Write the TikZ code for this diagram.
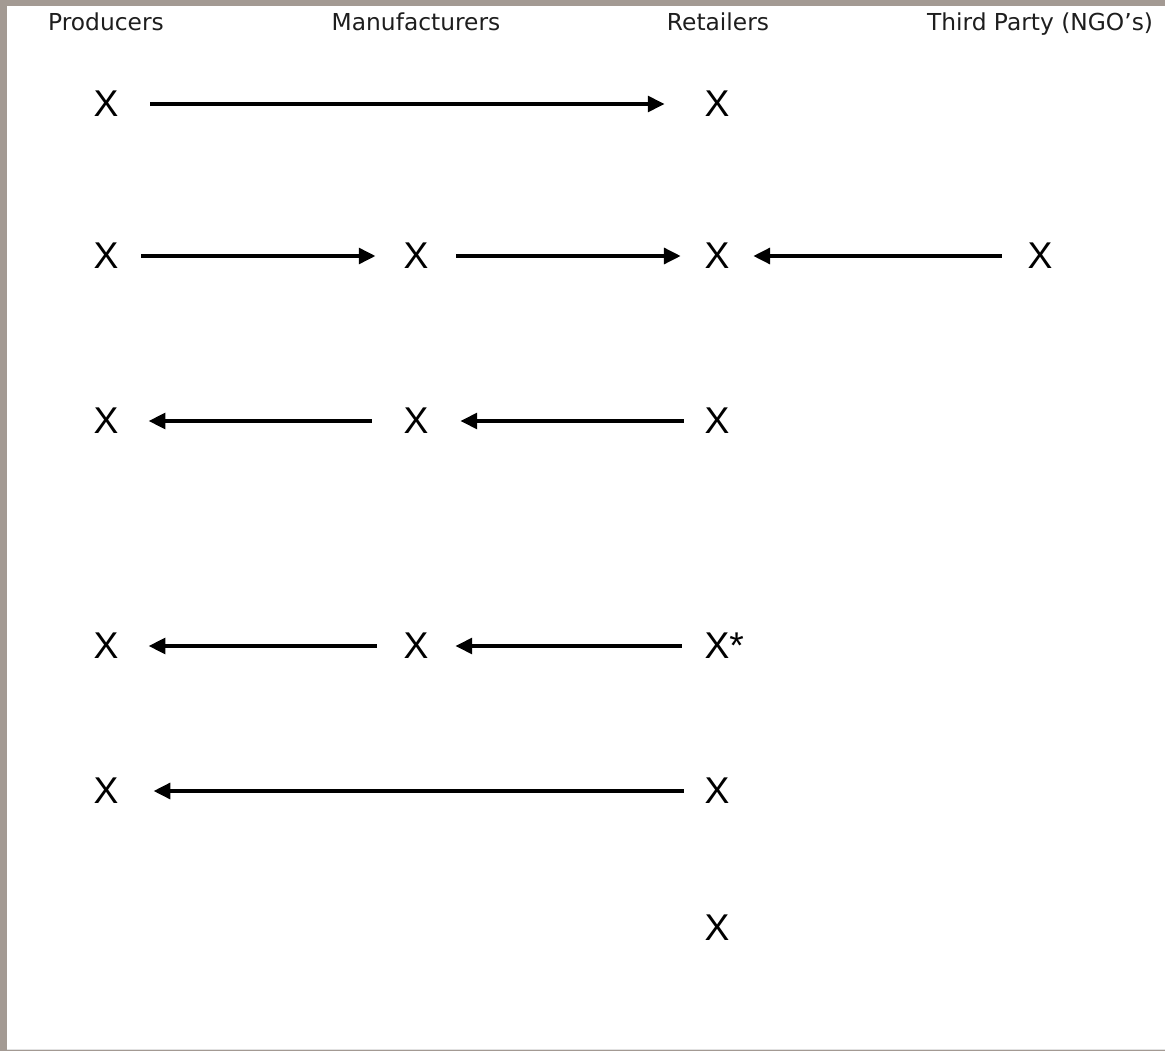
\documentclass[tikz,border=0pt]{standalone}
\usepackage{fontspec}
\setmainfont{DejaVu Sans}
\newfontfamily\crossfont{Liberation Sans}
\usepackage{tikz}
\usetikzlibrary{arrows.meta,positioning}
\definecolor{Frame}{HTML}{A39A93}
\definecolor{Edge}{HTML}{E2E2E2}
\definecolor{Ink}{HTML}{000000}
\definecolor{Head}{HTML}{1E1E1E}

\begin{document}
\begin{tikzpicture}[x=0.025cm,y=-0.025cm,
    head/.style={font=\fontsize{16.6}{20}\selectfont,Head,anchor=base},
    cross/.style={font=\crossfont\fontsize{26.5}{30}\selectfont,Ink,
      minimum width=50pt,inner xsep=0pt},
    flow/.style={Ink,line width=3.3pt,-{Triangle[length=12pt,width=11pt]}}]
  \useasboundingbox (0,0) rectangle (1165,1051);
  % frame
  \fill[Frame] (0,0) rectangle (1165,1051);
  \fill[white] (7,6) rectangle (1165,1049);
  \draw[Edge,line width=1pt] (7,1049.5) -- (1165,1049.5);
  % column heads
  \foreach \x/\name/\txt in {106/prod/Producers, 416/manu/Manufacturers,
    718/reta/Retailers, 1040/third/{Third Party (NGO’s)}} {
    \node[head] (\name) at (\x,31) {\txt};
  }
  % row 1
  \node[cross,minimum width=62.6pt] (p1) at (106,104) {X};
  \node[cross,minimum width=74pt] (r1) at (717,104) {X};
  \draw[flow] (p1) -- (r1);
  % row 2
  \node[cross,minimum width=49.8pt] (p2) at (106,256) {X};
  \node[cross,minimum width=57pt] (m2) at (416,256) {X};
  \node[cross,minimum width=51pt] (r2) at (717,256) {X};
  \node[cross,minimum width=54pt] (t2) at (1040,256) {X};
  \draw[flow] (p2) -- (m2);
  \draw[flow] (m2) -- (r2);
  \draw[flow] (t2) -- (r2);
  % row 3
  \node[cross,minimum width=60pt] (p3) at (106,421) {X};
  \node[cross,minimum width=62.6pt] (m3) at (416,421) {X};
  \node[cross,minimum width=47pt] (r3) at (717,421) {X};
  \draw[flow] (r3) -- (m3);
  \draw[flow] (m3) -- (p3);
  % row 4
  \node[cross,minimum width=60pt] (p4) at (106,646) {X};
  \node[cross,minimum width=55.5pt] (m4) at (416,646) {X};
  \node[cross,minimum width=50pt] (r4) at (717,646) {X\rlap{*}};
  \draw[flow] (r4) -- (m4);
  \draw[flow] (m4) -- (p4);
  % row 5
  \node[cross,minimum width=67pt] (p5) at (106,791) {X};
  \node[cross,minimum width=47pt] (r5) at (717,791) {X};
  \draw[flow] (r5) -- (p5);
  % row 6
  \node[cross] (r6) at (717,928) {X};
\end{tikzpicture}
\end{document}
